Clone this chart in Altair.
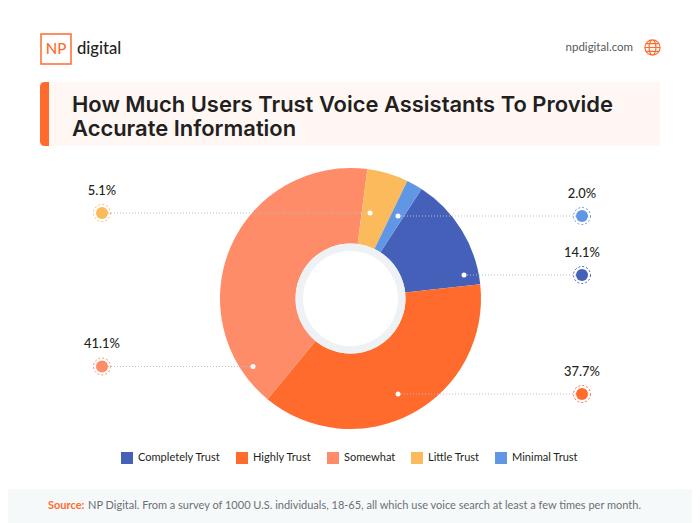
import altair as alt
import pandas as pd

labels = ["Completely Trust", "Highly Trust", "Somewhat", "Little Trust", "Minimal Trust"]
values = [14.1, 37.7, 41.1, 5.1, 2.0]
colors = ["#4560B8", "#FF6B2C", "#FF8C69", "#FBBB5C", "#6196E5"]
value_text = ["14.1%", "37.7%", "41.1%", "5.1%", "2.0%"]

FONT = "Lato"
HEAD = "Inter"
OX, OY = 8, 8
CX, CY = 350.5 - OX, 298.5 - OY
START = 0.576
TAU = 6.283185307


def one():
    return alt.Chart(pd.DataFrame({"a": [0]}))


def rect(x, x2, y, y2, color, **kw):
    return one().mark_rect(color=color, **kw).encode(
        x=alt.value(x - OX), x2=alt.value(x2 - OX), y=alt.value(y - OY), y2=alt.value(y2 - OY))


def text(s, x, y, size, color, weight=400, align="left", font=FONT):
    return one().mark_text(text=s, fontSize=size, color=color, fontWeight=weight, font=font,
                           align=align, baseline="alphabetic").encode(
        x=alt.value(x - OX), y=alt.value(y - OY))


def dot(x, y, r, **kw):
    return one().mark_point(size=4 * r * r, shape="circle", **kw).encode(
        x=alt.value(x - OX), y=alt.value(y - OY))


layers = []
# header
layers.append(rect(40, 660, 82, 146, "#FFF7F4"))
layers.append(rect(40, 49, 82, 146, "#FF6B2C", cornerRadiusTopLeft=7, cornerRadiusBottomLeft=7))
layers.append(text("How Much Users Trust Voice Assistants To Provide", 72, 112, 21.95, "#231F20", 600, font=HEAD))
layers.append(text("Accurate Information", 72, 136, 21.95, "#231F20", 600, font=HEAD))
# logo
layers.append(rect(41, 71, 34, 64, "#FFFFFF", stroke="#FF6B2C", strokeWidth=1.5))
layers.append(text("NP", 56, 54, 15, "#FF6B2C", 500, "center"))
layers.append(text("digital", 77, 54, 16.6, "#231F20", 500))
layers.append(text("npdigital.com", 633, 51, 11.5, "#55595E", 400, "right"))
globe = "M-1,0A1,1 0 1 1 1,0A1,1 0 1 1 -1,0M0,-1A0.45,1 0 1 1 0,1A0.45,1 0 1 1 0,-1M-1,0H1M-0.85,-0.5H0.85M-0.85,0.5H0.85"
layers.append(one().mark_point(shape=globe, size=230, stroke="#FF6B2C", strokeWidth=1.2, filled=False, opacity=1).encode(
    x=alt.value(652.5 - OX), y=alt.value(47.5 - OY)))

# donut
df = pd.DataFrame({"label": labels, "value": values, "rank": range(len(labels))})
arc = alt.Chart(df).mark_arc(outerRadius=130.5, innerRadius=55).encode(
    x=alt.value(CX), y=alt.value(CY),
    theta=alt.Theta("value:Q", stack=True, scale=alt.Scale(domain=[0, 100], range=[START, START + TAU])),
    order=alt.Order("rank:Q"),
    color=alt.Color("label:N", sort=labels, scale=alt.Scale(domain=labels, range=colors),
                    legend=alt.Legend(orient="none", legendX=121 - OX, legendY=452 - OY,
                                      direction="horizontal", columns=5, title=None,
                                      symbolType="square", symbolSize=144, symbolStrokeWidth=0,
                                      symbolOpacity=1, labelFont=FONT, labelFontSize=11.05,
                                      labelColor="#231F20", labelOffset=5, columnPadding=15)),
)
layers.append(arc)
layers.append(dot(350.5, 298.5, 55, color="#EEF2F4", filled=True, opacity=1))
layers.append(dot(350.5, 298.5, 47.5, color="#FFFFFF", filled=True, opacity=1))

# callouts
end_x = [582, 582, 102, 102, 582]
end_y = [275, 394, 366.5, 213, 216]
dot_x = [464, 398, 253, 370, 398]
label_y = [257, 376, 348, 195, 198]
for i in range(5):
    lo, hi = sorted([end_x[i], dot_x[i]])
    layers.append(one().mark_rule(color="#B9BEC4", strokeWidth=1, strokeDash=[1, 2]).encode(
        x=alt.value(lo - OX), x2=alt.value(hi - OX), y=alt.value(end_y[i] - OY)))
    layers.append(dot(dot_x[i], end_y[i], 2.5, color="#FFFFFF", filled=True, opacity=1))
    layers.append(dot(end_x[i], end_y[i], 6, color=colors[i], filled=True, opacity=1))
    layers.append(dot(end_x[i], end_y[i], 8.5, stroke=colors[i], filled=False, strokeWidth=1, strokeDash=[2, 2], opacity=1))
    layers.append(text(value_text[i], end_x[i], label_y[i], 12.9, "#231F20", 500, "center"))

# footer
layers.append(rect(8, 692, 489, 523, "#F6F9FA"))
layers.append(text("Source:", 48, 509, 11, "#FF6B2C", 700))
layers.append(text("NP Digital. From a survey of 1000 U.S. individuals, 18-65, all which use voice search at least a few times per month.",
                   88, 509, 11, "#6B7075"))

chart = alt.layer(*layers).properties(
    width=684, height=515, padding=0, autosize=alt.AutoSizeParams(type="none"), background="#FFFFFF"
).configure_view(stroke=None)

chart.save("out.html", embed_options={"renderer": "svg", "actions": False})
